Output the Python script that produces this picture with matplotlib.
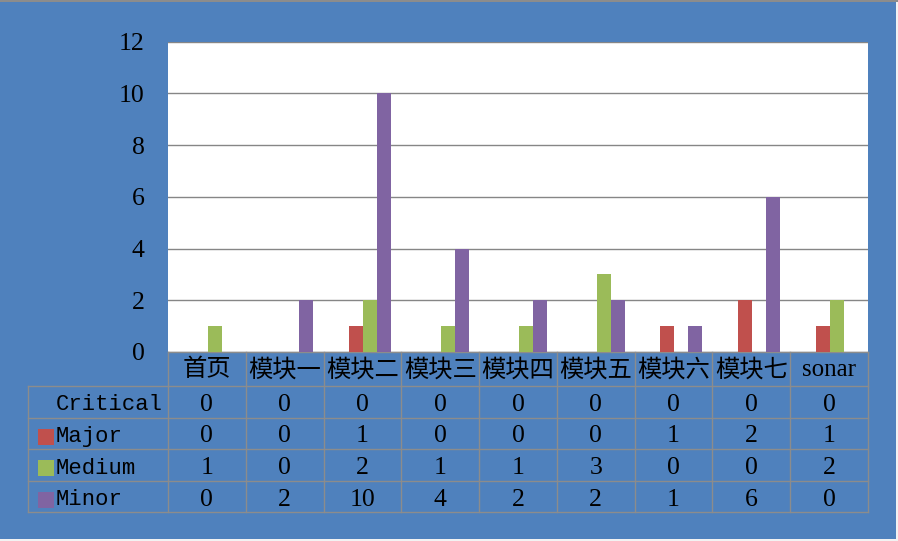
import matplotlib.pyplot as plt
import matplotlib.transforms as mtransforms
from matplotlib.patches import Rectangle
import numpy as np

# data
categories = ["首页", "模块一", "模块二", "模块三", "模块四", "模块五", "模块六", "模块七", "sonar"]
series_names = ["Critical", "Major", "Medium", "Minor"]
critical = [0, 0, 0, 0, 0, 0, 0, 0, 0]
major = [0, 0, 1, 0, 0, 0, 1, 2, 1]
medium = [1, 0, 2, 1, 1, 3, 0, 0, 2]
minor = [0, 2, 10, 4, 2, 2, 1, 6, 0]
y_ticks = [0, 2, 4, 6, 8, 10, 12]

BG_BLUE = "#4F81BD"
colors = ["#4F81BD", "#C0504D", "#9BBB59", "#8064A2"]
GRID = "#868686"
LINE = "#8C8C8C"

FONT = ["Liberation Serif", "Noto Sans CJK SC"]
MONO = ["Liberation Mono", "DejaVu Sans Mono"]

W, H = 898, 541
plot_left, plot_right = 168, 868
plot_top, plot_bottom = 41.5, 352
cat_px = (plot_right - plot_left) / len(categories)


def ay(py):
    # pixel row -> axes fraction
    return (plot_bottom - py) / (plot_bottom - plot_top)


def dx(px):
    # pixel column -> x data value
    return -0.5 + (px - plot_left) / cat_px


fig = plt.figure(figsize=(W / 100, H / 100), dpi=100)
fig.patch.set_facecolor("#F2F2F2")

# blue chart frame
fig.add_artist(Rectangle((0, 2 / H), 896 / W, (H - 4) / H,
                         transform=fig.transFigure, facecolor=BG_BLUE,
                         edgecolor="none", zorder=0))
fig.add_artist(Rectangle((0, (H - 2) / H), 1, 2 / H,
                         transform=fig.transFigure, facecolor="#8C8C8C",
                         edgecolor="none", zorder=0))

ax = fig.add_axes([plot_left / W, 1 - plot_bottom / H,
                   (plot_right - plot_left) / W, (plot_bottom - plot_top) / H])
ax.set_facecolor("white")

values = [critical, major, medium, minor]
x = np.arange(len(categories))
bar_w = 0.18
for i, (vals, col) in enumerate(zip(values, colors)):
    ax.bar(x + (i - 1.5) * bar_w + 0.01, vals, width=bar_w, color=col,
           zorder=3)

ax.set_xlim(-0.5, len(categories) - 0.5)
ax.set_ylim(0, 12)
ax.set_yticks(y_ticks)
ax.set_yticklabels([str(t) for t in y_ticks], fontfamily=FONT, fontsize=18.5)
ax.tick_params(axis="y", length=0, pad=17)
ax.set_xticks([])
ax.yaxis.grid(True, color=GRID, linewidth=1.0, zorder=1)
ax.set_axisbelow(True)
for side in ["left", "right", "top"]:
    ax.spines[side].set_visible(False)
ax.spines["bottom"].set_color(LINE)
ax.spines["bottom"].set_linewidth(1.0)

# data table under the plot
tr = mtransforms.blended_transform_factory(ax.transData, ax.transAxes)
row_lines = [386, 418, 449, 481, 512]
table_left = dx(28)

for py in row_lines:
    ax.plot([table_left, len(categories) - 0.5], [ay(py), ay(py)],
            transform=tr, color=LINE, linewidth=1.0, clip_on=False)

for k in range(len(categories) + 1):
    ax.plot([k - 0.5, k - 0.5], [ay(plot_bottom), ay(row_lines[-1])],
            transform=tr, color=LINE, linewidth=1.0, clip_on=False)
ax.plot([table_left, table_left], [ay(row_lines[0]), ay(row_lines[-1])],
        transform=tr, color=LINE, linewidth=1.0, clip_on=False)

# category header
for k, name in enumerate(categories):
    size = 18 if name == "sonar" else 17.5
    ax.text(k, ay(370), name, transform=tr, ha="center", va="center",
            fontfamily=FONT, fontsize=size, color="black", clip_on=False)

# rows
for r, (name, vals, col) in enumerate(zip(series_names, values, colors)):
    top = row_lines[r]
    bot = row_lines[r + 1]
    mid = (top + bot) / 2 + 3
    ax.add_patch(Rectangle((dx(38), ay(mid + 8)), dx(54) - dx(38), ay(mid - 8) - ay(mid + 8),
                           transform=tr, facecolor=col, edgecolor="none",
                           clip_on=False))
    ax.text(dx(56), ay(mid), name, transform=tr, ha="left", va="center",
            fontfamily=MONO, fontsize=16, color="black", clip_on=False)
    for k, v in enumerate(vals):
        ax.text(k, ay(mid), str(v), transform=tr, ha="center", va="center",
                fontfamily=FONT, fontsize=18.5, color="black", clip_on=False)

fig.savefig("out.png", dpi=100)
